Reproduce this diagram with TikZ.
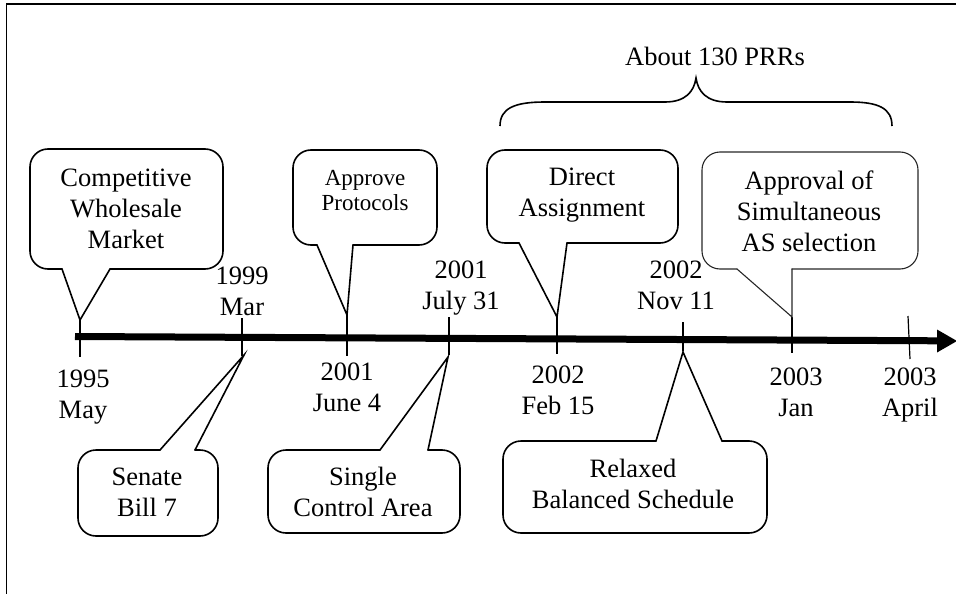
\documentclass[tikz,border=0pt]{standalone}
\usepackage{fontspec}
\setmainfont{Liberation Serif}
\begin{document}
\begin{tikzpicture}[x=1pt,y=-1pt,
  txt/.style={align=center, inner sep=0pt, font=\fontsize{26.5}{31}\selectfont,
    execute at begin node=\strut, execute at end node=\strut},
  small/.style={txt, font=\fontsize{23}{25.5}\selectfont},
  bx/.style={line width=1.6pt, line join=round, line cap=round, rounded corners=18pt},
  leg/.style={line width=1.6pt, line join=miter, line cap=round},
  thinbx/.style={bx, line width=1.1pt, draw=black!85},
  thinleg/.style={leg, line width=1.1pt, draw=black!85},
  tick/.style={line width=1.2pt},
  frame/.style={line width=1.8pt}
]
\useasboundingbox (0,0) rectangle (956,594);
% frame
\coordinate (fbl) at (6.5,600);
\coordinate (ftl) at (6.5,4);
\coordinate (ftr) at (962,4);
\draw[frame] (fbl) -- (ftl) -- (ftr);

% axis
\coordinate (axL) at (75,336.5);
\coordinate (axH) at (938,340.8);
\coordinate (axT) at (957,341);
\coordinate (ah1) at (937,329.5);
\coordinate (ah2) at (937,352.5);
\draw[line width=7pt] (axL) -- (axH);
\fill (ah1) -- (axT) -- (ah2) -- cycle;

% ticks
\draw[tick, line width=1.8pt] (80,320) -- (80,357);
\draw[tick] (242,318) -- (242,356);
\draw[tick] (347,315) -- (347,356);
\draw[tick, line width=1.6pt] (449,317) -- (449,355);
\draw[tick] (557,317) -- (557,354);
\draw[tick, line width=1.6pt] (683,322) -- (683,351);
\draw[tick] (792,317) -- (792,353);
\draw[tick] (908,316) -- (910,359);

% callout: Competitive Wholesale Market
\coordinate (c1tip) at (80,320);
\draw[bx] (110,269) -- (223,269) -- (223,149) -- (30,149) -- (30,269) -- (62,269);
\draw[leg] (62,269) -- (c1tip) -- (110,269);
\node[txt] (tcomp) at (126,213) {Competitive\\Wholesale\\Market};

% callout: Approve Protocols
\coordinate (c2tip) at (347,315);
\draw[bx] (353,245) -- (437,245) -- (437,150) -- (293,150) -- (293,245) -- (317,245);
\draw[leg] (317,245) -- (c2tip) -- (353,245);
\node[small] (tappr) at (365,194) {Approve\\Protocols};

% callout: Direct Assignment
\coordinate (c3tip) at (557,317);
\draw[bx] (567,243) -- (678,243) -- (678,150) -- (487,150) -- (487,243) -- (519,243);
\draw[leg] (519,243) -- (c3tip) -- (567,243);
\node[txt] (tdir) at (582,197) {Direct\\Assignment};

% callout: Approval of Simultaneous AS selection
\coordinate (c4tip) at (792,317);
\draw[thinbx] (792,269) -- (918,269) -- (918,152) -- (702,152) -- (702,269) -- (737,269);
\draw[thinleg] (737,269) -- (c4tip) -- (792,269);
\node[txt] (tsim) at (809,215.5) {Approval of\\Simultaneous\\AS selection};

% callout: Senate Bill 7
\coordinate (c5tip) at (244,355);
\draw[bx] (195,450) -- (218,450) -- (218,536) -- (78,536) -- (78,450) -- (160,450);
\draw[leg] (160,450) -- (c5tip) -- (195,450);
\node[txt] (tsen) at (147,497) {Senate\\Bill 7};

% callout: Single Control Area
\coordinate (c6tip) at (448,357);
\draw[bx] (428,450) -- (460,450) -- (460,533) -- (268,533) -- (268,450) -- (380,450);
\draw[leg] (380,450) -- (c6tip) -- (428,450);
\node[txt] (tsca) at (363,496) {Single\\Control Area};

% callout: Relaxed Balanced Schedule
\coordinate (c7tip) at (683,352);
\draw[bx] (722,441) -- (767,441) -- (767,533) -- (503,533) -- (503,441) -- (656,441);
\draw[leg] (656,441) -- (c7tip) -- (722,441);
\node[txt] (trel) at (633,488) {Relaxed\\Balanced Schedule};

% brace
\coordinate (brL) at (500,126);
\coordinate (brC) at (696,78);
\coordinate (brR) at (892,126);
\draw[line width=1.6pt] (brL) .. controls (500,108) and (515,102) .. (545,102) -- (665,102)
  .. controls (685,102) and (694,92) .. (brC)
  .. controls (698,92) and (707,102) .. (727,102) -- (850,102)
  .. controls (878,102) and (892,108) .. (brR);
\node[txt] (tprr) at (715,59) {About 130 PRRs};

% dates
\node[txt] (d1) at (83,399) {1995\\May};
\node[txt] (d2) at (242,295.5) {1999\\Mar};
\node[txt] (d3) at (347,392) {2001\\June 4};
\node[txt] (d4) at (461,290) {2001\\July 31};
\node[txt] (d5) at (558,395) {2002\\Feb 15};
\node[txt] (d6) at (676,290) {2002\\Nov 11};
\node[txt] (d7) at (796,397) {2003\\Jan};
\node[txt] (d8) at (910,397) {2003\\April};
\end{tikzpicture}
\end{document}
